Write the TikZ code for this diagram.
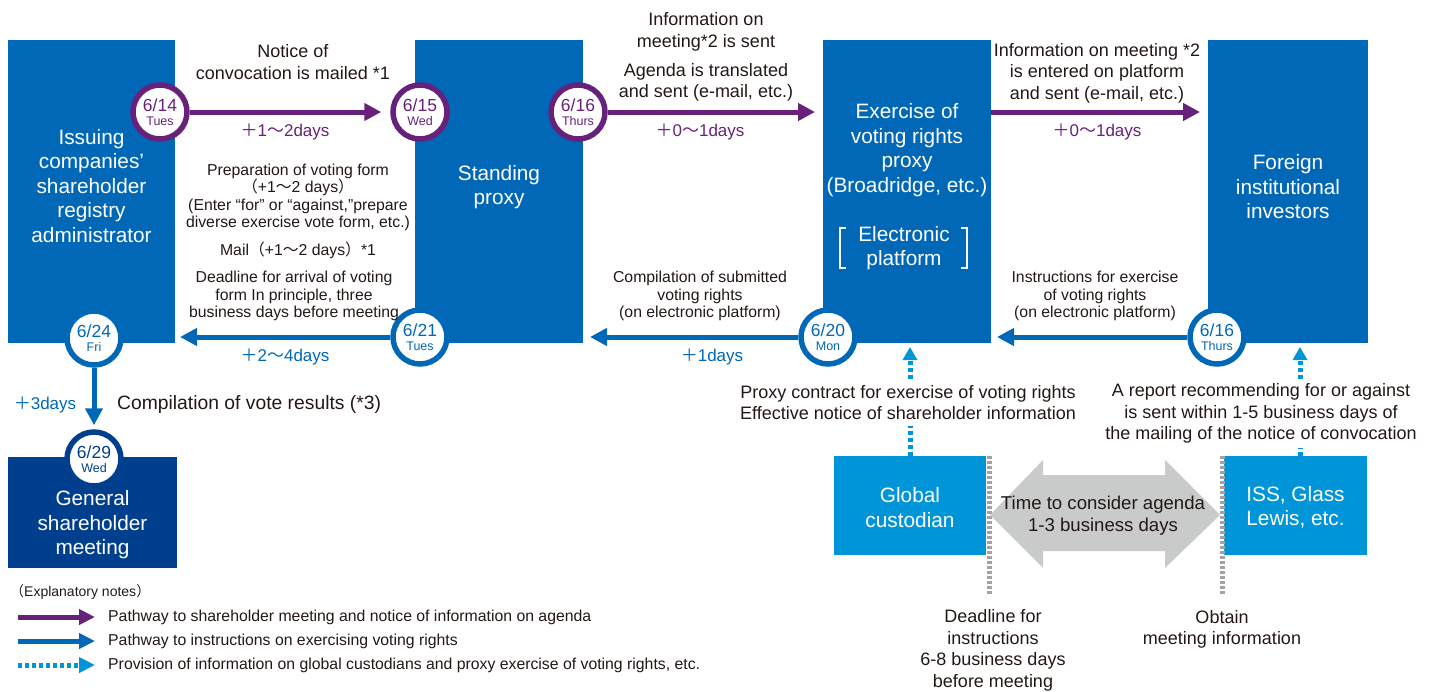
\documentclass[tikz,border=0pt]{standalone}
\usepackage{fontspec}
\setmainfont{Liberation Sans}
\newfontfamily\cjk{Noto Sans CJK JP}
\usetikzlibrary{arrows.meta}
\definecolor{cblue}{HTML}{0068B7}
\definecolor{cdark}{HTML}{003F8E}
\definecolor{clight}{HTML}{0095D9}
\definecolor{cpurple}{HTML}{68217A}
\definecolor{cgray}{HTML}{C9CACA}
\definecolor{cdot}{HTML}{A3A3A3}
\definecolor{ctext}{HTML}{231815}
\newcommand\wv{{\cjk 〜}}
\newcommand\fp{{\cjk ＋}}
\newcommand\lp{{\cjk （}}
\newcommand\rp{{\cjk ）}}
\newcommand\dt[2]{\fontsize{17.5}{17.5}\selectfont #1\\[2pt]\fontsize{12.5}{13}\selectfont #2}
\tikzset{
  rect/.style={rectangle, inner sep=0pt, outer sep=0pt, draw=none},
  boxt/.style={text=white, align=center, font=\fontsize{20.8}{24.5}\selectfont},
  circ/.style={circle, draw=#1, text=#1, fill=white, line width=5.5pt, minimum size=54pt, inner sep=0pt, align=center},
  mid/.style={align=center, font=\fontsize{18}{21.5}\selectfont},
  small/.style={align=center, font=\fontsize{15.8}{17.5}\selectfont},
  leg/.style={font=\fontsize{15.8}{17}\selectfont},
  plab/.style={text=cpurple, font=\fontsize{17}{20}\selectfont},
  blab/.style={text=cblue, font=\fontsize{17}{20}\selectfont},
  parrow/.style={draw=cpurple, line width=5pt, -{Triangle[length=17pt,width=17pt]}},
  barrow/.style={draw=cblue, line width=5pt, -{Triangle[length=17pt,width=17pt]}},
  darrow/.style={draw=clight, line width=5pt, dash pattern=on 4pt off 3pt, -{Triangle[length=13pt,width=14pt]}},
  gdot/.style={draw=cdot, line width=5pt, dash pattern=on 3pt off 2pt},
}
\begin{document}
\begin{tikzpicture}[x=1pt,y=-1pt, every node/.style={text=ctext, inner sep=0pt}]
\useasboundingbox (0,0) rectangle (1432,691);

% boxes
\node[rect, fill=cblue, minimum width=167pt, minimum height=303pt] (bA) at (91.5,191.5) {};
\node[rect, fill=cblue, minimum width=168pt, minimum height=303pt] (bB) at (499,191.5) {};
\node[rect, fill=cblue, minimum width=168pt, minimum height=303pt] (bC) at (907,191.5) {};
\node[rect, fill=cblue, minimum width=160pt, minimum height=303pt] (bD) at (1288,191.5) {};
\node[rect, fill=cdark, minimum width=169pt, minimum height=111pt] (bE) at (92.5,512.5) {};
\node[rect, fill=clight, minimum width=152pt, minimum height=99pt] (gc) at (910,505.5) {};
\node[rect, fill=clight, minimum width=143pt, minimum height=99pt] (iss) at (1295.5,505.5) {};

\node[boxt] (tA) at (91.5,186) {Issuing\\companies’\\shareholder\\registry\\administrator};
\node[boxt] (tB) at (499,187) {Standing\\proxy};
\node[boxt] (tC) at (907,150) {Exercise of\\voting rights\\proxy\\(Broadridge, etc.)};
\node[boxt] (tP) at (904,248) {Electronic\\platform};
\draw[white, line width=1.2pt] (846,228) -- (840,228) -- (840,268) -- (846,268);
\draw[white, line width=1.2pt] (961,228) -- (967,228) -- (967,268) -- (961,268);
\node[boxt] (tD) at (1288,187) {Foreign\\institutional\\investors};
\node[boxt] (tE) at (92.5,525) {General\\shareholder\\meeting};
\node[boxt] (tG) at (910,507.5) {Global\\custodian};
\node[boxt] (tI) at (1295.5,507.5) {ISS, Glass\\Lewis, etc.};

% gray marks and double arrow
\draw[gdot] (989,456) -- (989,595);
\draw[gdot] (1222,456) -- (1222,595);
\fill[cgray] (990,515) -- (1043,460) -- (1043,475) -- (1165,475) -- (1165,460) -- (1220,515)
  -- (1165,568) -- (1165,551) -- (1043,551) -- (1043,568) -- cycle;
\node[mid, font=\fontsize{18.6}{21.5}\selectfont] (tt) at (1103,515.5) {Time to consider agenda\\1-3 business days};

% dotted arrows
\coordinate (issTop) at (1300,456);
\draw[darrow, shorten >=4pt] (gc.north) -- (gc.north |- bC.south);
\draw[darrow, shorten >=4pt] (issTop) -- (issTop |- bD.south);
\node[mid, fill=white, inner xsep=2pt, inner ysep=6pt] (tpx) at (908,402.5) {Proxy contract for exercise of voting rights\\Effective notice of shareholder information};
\node[mid, fill=white, inner xsep=2pt, inner ysep=5pt] (trep) at (1261,413.5) {A report recommending for or against\\is sent within 1-5 business days of\\the mailing of the notice of convocation};

% circles
\node[circ=cpurple] (c614) at (160,112) {\dt{6/14}{Tues}};
\node[circ=cpurple] (c615) at (420,112) {\dt{6/15}{Wed}};
\node[circ=cpurple] (c616) at (578,112) {\dt{6/16}{Thurs}};
\node[circ=cblue] (c621) at (420,337) {\dt{6/21}{Tues}};
\node[circ=cblue] (c624) at (94,338) {\dt{6/24}{Fri}};
\node[circ=cdark] (c629) at (94,459) {\dt{6/29}{Wed}};
\node[circ=cblue] (c620) at (828,337) {\dt{6/20}{Mon}};
\node[circ=cblue] (c616b) at (1217,337) {\dt{6/16}{Thurs}};

% arrows
\draw[parrow, shorten >=9pt] (c614) -- (c615);
\draw[parrow, shorten >=8pt] (c616) -- (bC.west |- c616);
\draw[parrow, shorten >=8pt] (bC.east |- c616) -- (bD.west |- c616);
\draw[barrow, shorten >=6pt] (c616b) -- (bC.east |- c616b);
\draw[barrow, shorten >=7pt] (c620) -- (bB.east |- c620);
\draw[barrow, shorten >=5pt] (c621) -- (bA.east |- c621);
\draw[barrow, shorten >=4pt] (c624) -- (c629);

% labels
\node[mid] (l1) at (293,62) {Notice of\\convocation is mailed *1};
\node[plab] (l2) at (285,132) {\fp1\wv2days};
\node[mid] (l3) at (706,32) {Information on\\meeting*2 is sent};
\node[mid] (l4) at (706,82.5) {Agenda is translated\\and sent (e-mail, etc.)};
\node[plab] (l5) at (700,132) {\fp0\wv1days};
\node[mid] (l6) at (1097,73) {Information on meeting *2\\is entered on platform\\and sent (e-mail, etc.)};
\node[plab] (l7) at (1097,132) {\fp0\wv1days};
\node[small] (l8) at (298,197.5) {Preparation of voting form\\\lp+1\wv2 days\rp\\(Enter “for” or “against,”prepare\\diverse exercise vote form, etc.)};
\node[small] (l9) at (298,250) {Mail\lp+1\wv2 days\rp*1};
\node[small] (l10) at (294,296) {Deadline for arrival of voting\\form In principle, three\\business days before meeting};
\node[blab] (l11) at (285,357) {\fp2\wv4days};
\node[small] (l12) at (700,296) {Compilation of submitted\\voting rights\\(on electronic platform)};
\node[blab] (l13) at (712,357) {\fp1days};
\node[small] (l14) at (1095,296) {Instructions for exercise\\of voting rights\\(on electronic platform)};
\node[blab] (l15) at (45,405) {\fp3days};
\node[mid, anchor=west, font=\fontsize{19.3}{21.5}\selectfont] (l16) at (117,405) {Compilation of vote results (*3)};
\node[mid] (l17) at (993,650.5) {Deadline for\\instructions\\6-8 business days\\before meeting};
\node[mid] (l18) at (1222,629.5) {Obtain\\meeting information};

% legend
\node[leg, anchor=west, font=\fontsize{14}{16}\selectfont] (lg0) at (10,592) {\lp Explanatory notes\rp};
\coordinate (la1) at (18,617); \coordinate (lb1) at (95,617);
\coordinate (la2) at (18,641); \coordinate (lb2) at (95,641);
\coordinate (la3) at (18,665); \coordinate (lb3) at (95,665);
\draw[parrow, -{Triangle[length=16pt,width=15pt]}] (la1) -- (lb1);
\draw[barrow, -{Triangle[length=16pt,width=15pt]}] (la2) -- (lb2);
\draw[darrow, -{Triangle[length=16pt,width=15pt]}] (la3) -- (lb3);
\node[leg, anchor=west] (lg1) at (108,617) {Pathway to shareholder meeting and notice of information on agenda};
\node[leg, anchor=west] (lg2) at (108,641) {Pathway to instructions on exercising voting rights};
\node[leg, anchor=west] (lg3) at (108,665) {Provision of information on global custodians and proxy exercise of voting rights, etc.};
\end{tikzpicture}
\end{document}
